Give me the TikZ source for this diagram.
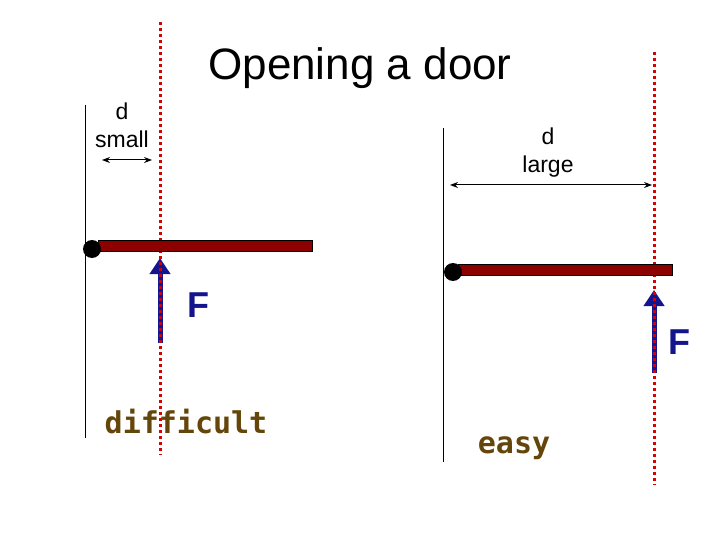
\documentclass[tikz,border=0pt]{standalone}
\usepackage{fontspec}
\setmainfont{Liberation Sans}
\newfontfamily\handfont{DejaVu Sans Mono}
\usetikzlibrary{arrows.meta}
\definecolor{doorred}{RGB}{140,0,0}
\definecolor{forceblue}{RGB}{20,20,140}
\definecolor{wordbrown}{RGB}{100,70,10}
\begin{document}
\begin{tikzpicture}
 [x=1pt, y=-1pt,
 wall/.style={draw=black, line width=1pt},
 axis/.style={draw=red!85!black, line width=3pt, dash pattern=on 3pt off 3pt},
 door/.style={draw=black, fill=doorred, line width=0.8pt},
 hinge/.style={circle, fill=black, inner sep=0pt, minimum size=18pt},
 force/.style={draw=forceblue, line width=5pt, -{Triangle[length=16pt,width=20pt]}},
 span/.style={draw=black, line width=1pt, {Stealth[length=8pt,width=6pt]}-{Stealth[length=8pt,width=6pt]}},
 smalltext/.style={font=\fontsize{23}{28}\selectfont, align=center},
 forcetext/.style={text=forceblue, font=\bfseries\fontsize{36}{36}\selectfont},
 wordtext/.style={text=wordbrown, font=\handfont\bfseries\fontsize{30}{36}\selectfont}
 ]
 \useasboundingbox (0,0) rectangle (720,540);
 \node (title) at (360,68) {\fontsize{44}{48}\selectfont Opening a door};
 % left door
 \coordinate (lwtop) at (85,105); \coordinate (lwbot) at (85,438);
 \draw[wall] (lwtop) -- (lwbot);
 \coordinate (ltail) at (160,343); \coordinate (lhead) at (160,258);
 \draw[force] (ltail) -- (lhead);
 \coordinate (laxtop) at (160,22); \coordinate (laxbot) at (160,455);
 \draw[axis] (laxtop) -- (laxbot);
 \draw[door] (98,240) rectangle (312,251);
 \node[hinge] (lhinge) at (92,249) {};
 \node[smalltext] (lsmall) at (122,125) {d\\small};
 \coordinate (ls1) at (102,160); \coordinate (ls2) at (152,160);
 \draw[span] (ls1) -- (ls2);
 \node[forcetext] (lF) at (198,305) {F};
 \node[wordtext] (hard) at (186,422) {difficult};
 % right door
 \coordinate (rwtop) at (443,128); \coordinate (rwbot) at (443,462);
 \draw[wall] (rwtop) -- (rwbot);
 \coordinate (rtail) at (654,373); \coordinate (rhead) at (654,290);
 \draw[force] (rtail) -- (rhead);
 \coordinate (raxtop) at (654,52); \coordinate (raxbot) at (654,485);
 \draw[axis] (raxtop) -- (raxbot);
 \draw[door] (458,264) rectangle (672,275);
 \node[hinge] (rhinge) at (453,272) {};
 \node[smalltext] (rlarge) at (548,153) {d\\large};
 \coordinate (rs1) at (450,185); \coordinate (rs2) at (652,185);
 \draw[span] (rs1) -- (rs2);
 \node[forcetext] (rF) at (679,342) {F};
 \node[wordtext] (easy) at (514,448) {easy};
\end{tikzpicture}
\end{document}
